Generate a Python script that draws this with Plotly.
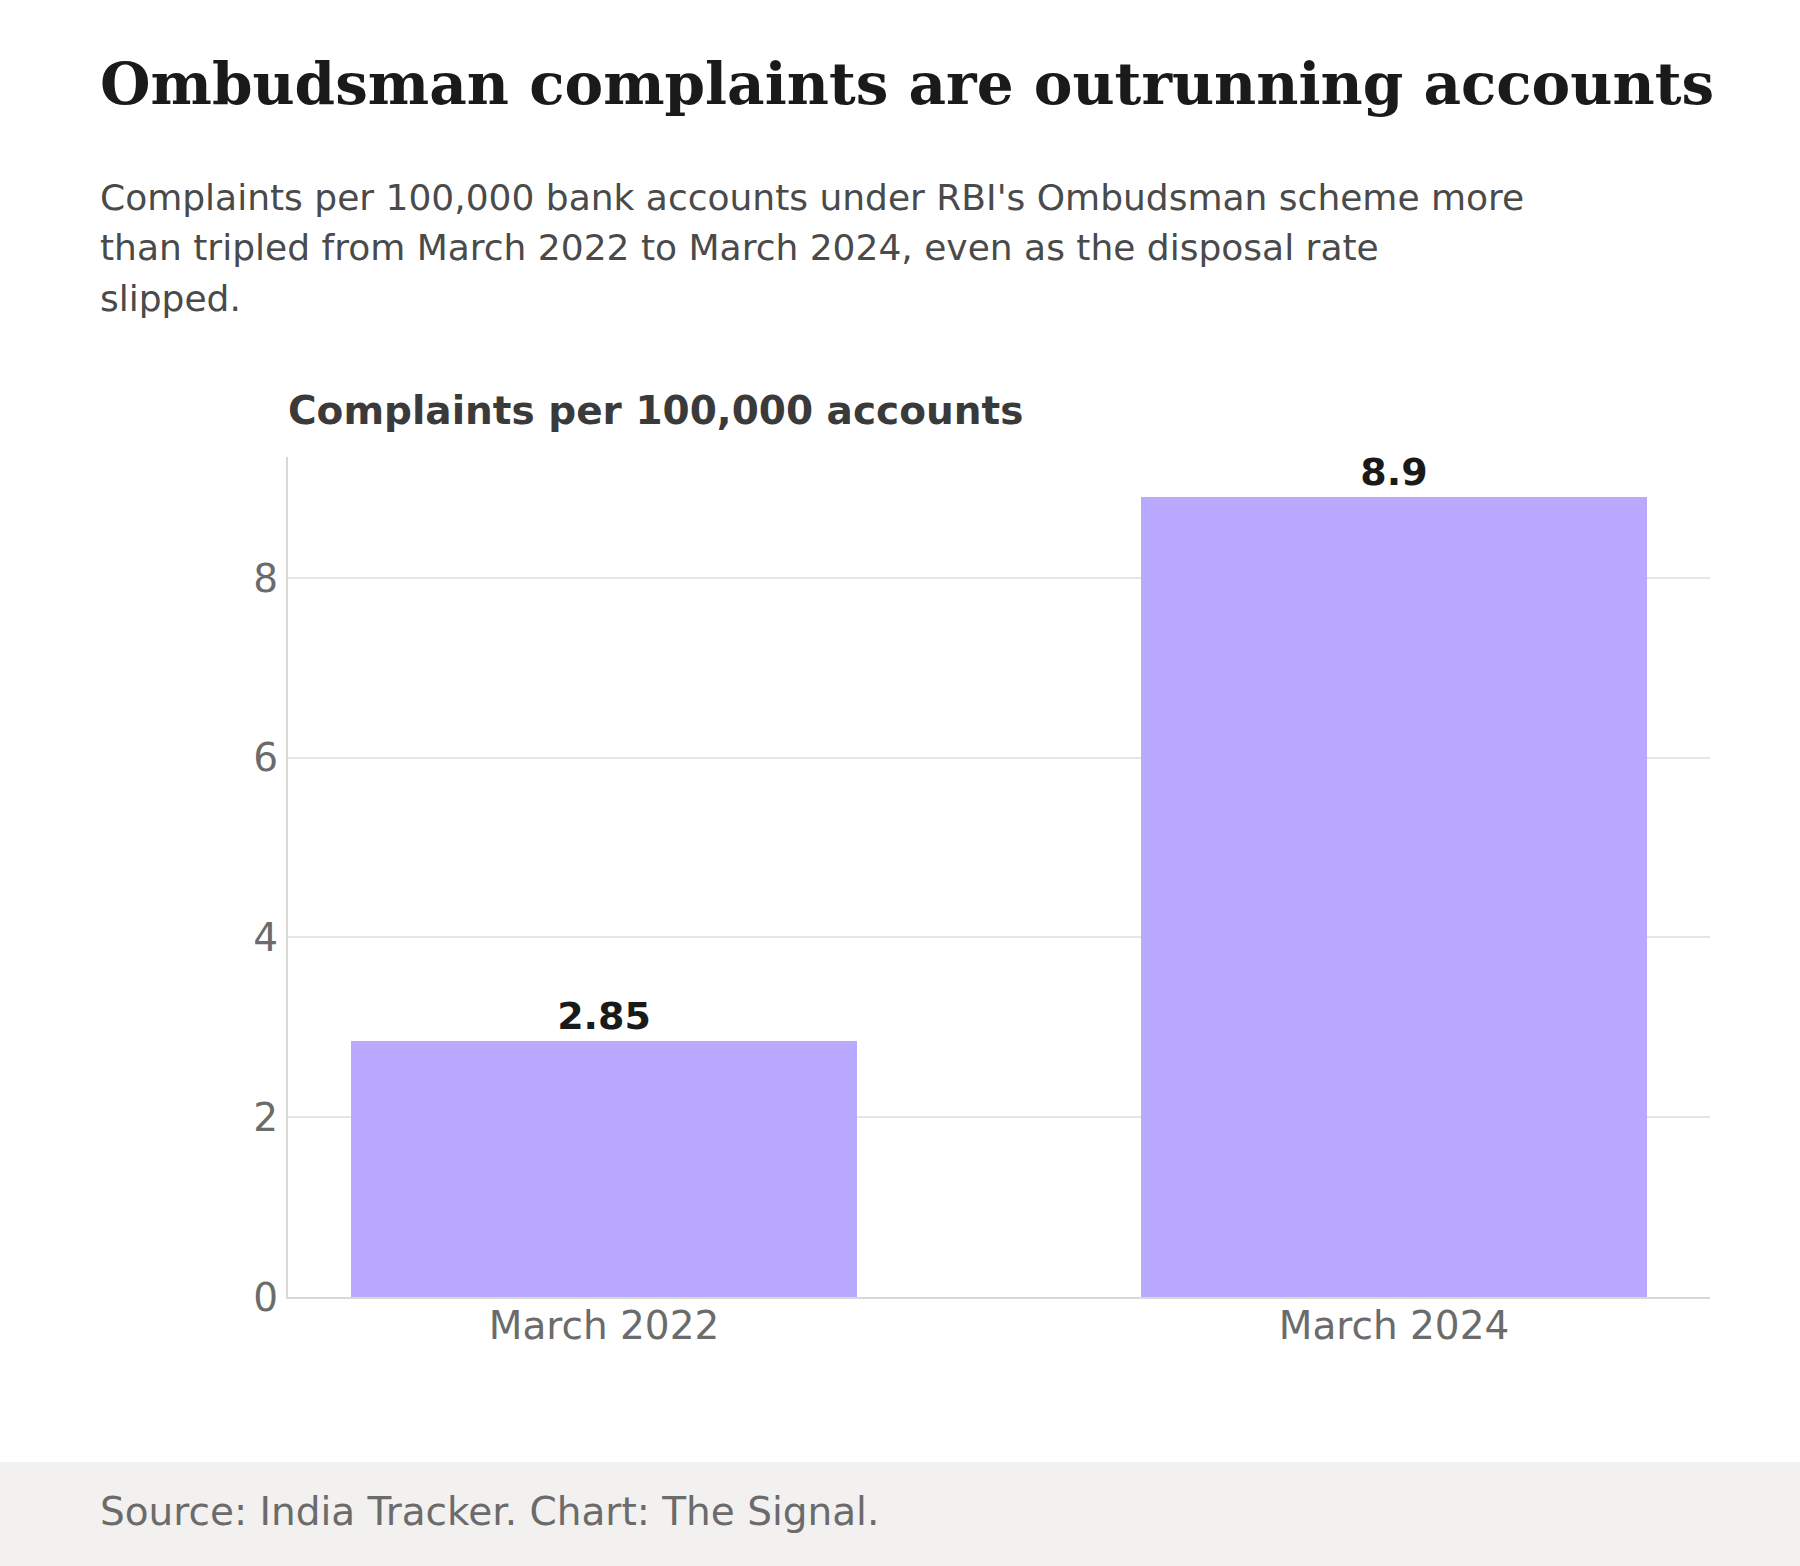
import plotly.graph_objects as go

categories = ["March 2022", "March 2024"]
values = [2.85, 8.9]
value_labels = ["2.85", "8.9"]
y_ticks = [0, 2, 4, 6, 8]

title_text = "Ombudsman complaints are outrunning accounts"
subtitle_lines = [
    "Complaints per 100,000 bank accounts under RBI's Ombudsman scheme more",
    "than tripled from March 2022 to March 2024, even as the disposal rate",
    "slipped.",
]
axis_title = "Complaints per 100,000 accounts"
source_text = "Source: India Tracker. Chart: The Signal."

W, H = 1800, 1566
ML, MR, MT, MB = 288, 90, 457, 269
PW = W - ML - MR
PH = H - MT - MB


def px_x(x):
    return (x - ML) / PW


def px_y(y):
    return (H - MB - y) / PH


fig = go.Figure()
fig.add_bar(
    x=[0, 1],
    y=values,
    width=0.64,
    marker=dict(color="#b8a9ff", line=dict(width=0)),
    text=value_labels,
    textposition="outside",
    textfont=dict(family="DejaVu Sans", size=38, color="#1a1a1a", weight=700),
    cliponaxis=False,
    hoverinfo="skip",
)

annotations = []
annotations.append(dict(
    text="<b>" + title_text + "</b>", x=px_x(97.5), y=px_y(84), xref="paper", yref="paper",
    xanchor="left", yanchor="middle", showarrow=False,
    font=dict(family="DejaVu Serif", size=58, color="#1a1a1a"),
))
for i, line in enumerate(subtitle_lines):
    annotations.append(dict(
        text=line, x=px_x(97.5), y=px_y(197 + 50.5 * i), xref="paper", yref="paper",
        xanchor="left", yanchor="middle", showarrow=False,
        font=dict(family="DejaVu Sans", size=36, color="#4a4a4a"),
    ))
annotations.append(dict(
    text="<b>" + axis_title + "</b>", x=px_x(285.5), y=px_y(410), xref="paper", yref="paper",
    xanchor="left", yanchor="middle", showarrow=False,
    font=dict(family="DejaVu Sans", size=39, color="#3a3a3a"),
))
annotations.append(dict(
    text=source_text, x=px_x(97.5), y=px_y(1511), xref="paper", yref="paper",
    xanchor="left", yanchor="middle", showarrow=False,
    font=dict(family="DejaVu Sans", size=39, color="#6b6b6b"),
))

fig.update_layout(
    width=W, height=H,
    margin=dict(l=ML, r=MR, t=MT, b=MB, pad=0),
    paper_bgcolor="white", plot_bgcolor="white",
    showlegend=False,
    annotations=annotations,
    shapes=[dict(
        type="rect", xref="paper", yref="paper",
        x0=px_x(0), x1=px_x(W), y0=px_y(H), y1=px_y(1462),
        fillcolor="#f2f1ef", line=dict(width=0), layer="below",
    )],
    bargap=0,
)
fig.update_xaxes(
    range=[-0.4, 1.4], tickmode="array", tickvals=[0, 1], ticktext=categories,
    showline=True, linecolor="#d9d9d4", linewidth=2, showgrid=False, zeroline=False,
    ticks="", ticklabelstandoff=-7,
    tickfont=dict(family="DejaVu Sans", size=39, color="#6b6b6b"),
)
fig.update_yaxes(
    range=[0, 9.345], tickmode="array", tickvals=y_ticks, ticktext=[str(t) for t in y_ticks],
    showline=True, linecolor="#d9d9d4", linewidth=2, showgrid=True, gridcolor="#e6e6e1",
    gridwidth=2, zeroline=False, ticks="", ticklabelstandoff=0,
    tickfont=dict(family="DejaVu Sans", size=39, color="#6b6b6b"),
)

fig.write_html("out.html")
